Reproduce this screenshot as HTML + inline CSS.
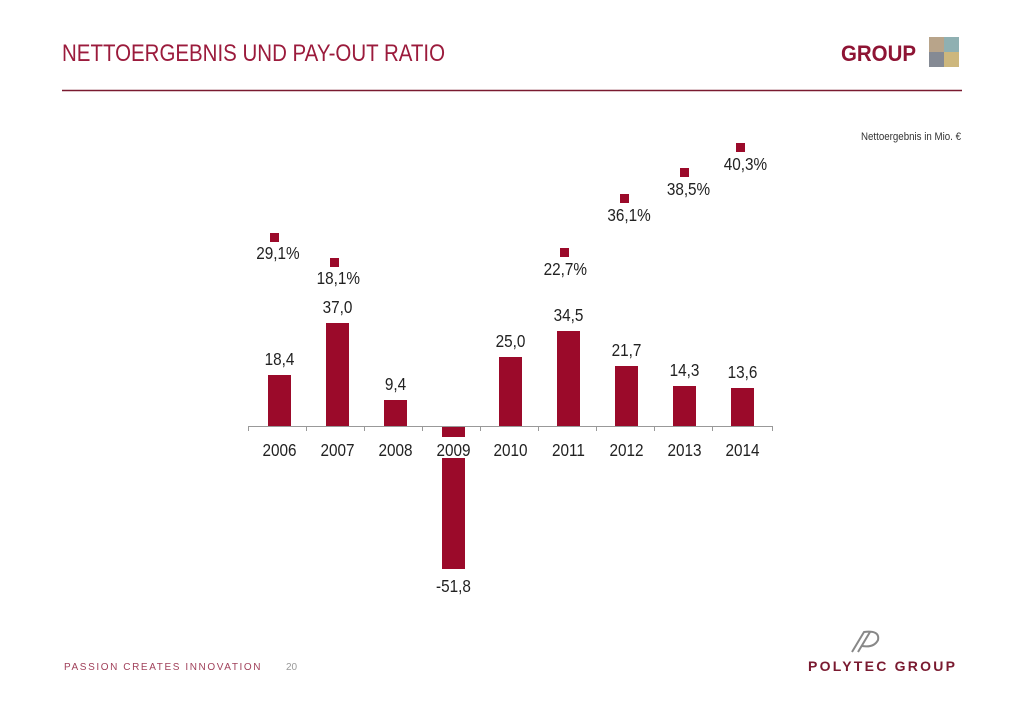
<!DOCTYPE html>
<html><head><meta charset="utf-8"><style>
html,body{margin:0;padding:0;background:#fff;}
svg{display:block;font-family:"Liberation Sans",sans-serif;}
</style></head><body>
<svg width="1024" height="709" viewBox="0 0 1024 709" xmlns="http://www.w3.org/2000/svg">
<text x="62" y="61" font-size="24" fill="#9b1b3c" textLength="383" lengthAdjust="spacingAndGlyphs">NETTOERGEBNIS UND PAY-OUT RATIO</text>
<text x="841" y="61" font-size="22" font-weight="bold" fill="#8e1434" textLength="75" lengthAdjust="spacingAndGlyphs">GROUP</text>
<rect x="929" y="37" width="15" height="15" fill="#b8a48a"/>
<rect x="944" y="37" width="15" height="15" fill="#8fb0b2"/>
<rect x="929" y="52" width="15" height="15" fill="#858a94"/>
<rect x="944" y="52" width="15" height="15" fill="#cdb77d"/>
<line x1="62" y1="90.5" x2="962" y2="90.5" stroke="#7a1a30" stroke-width="1.5"/>
<text x="861" y="140" font-size="11" fill="#333" textLength="100" lengthAdjust="spacingAndGlyphs">Nettoergebnis in Mio. €</text>

<g fill="#9b0a2a">
<rect x="268" y="375" width="23" height="51"/>
<rect x="326" y="323" width="23" height="103"/>
<rect x="384" y="400" width="23" height="26"/>
<rect x="442" y="426" width="23" height="11"/>
<rect x="442" y="458" width="23" height="111"/>
<rect x="499" y="357" width="23" height="69"/>
<rect x="557" y="331" width="23" height="95"/>
<rect x="615" y="366" width="23" height="60"/>
<rect x="673" y="386" width="23" height="40"/>
<rect x="731" y="388" width="23" height="38"/>
<rect x="270" y="233" width="9" height="9"/>
<rect x="330" y="258" width="9" height="9"/>
<rect x="560" y="248" width="9" height="9"/>
<rect x="620" y="194" width="9" height="9"/>
<rect x="680" y="168" width="9" height="9"/>
<rect x="736" y="143" width="9" height="9"/>
</g>
<g stroke="#999" stroke-width="1">
<line x1="248" y1="426.5" x2="773" y2="426.5"/>
<line x1="248.5" y1="426" x2="248.5" y2="431"/><line x1="306.5" y1="426" x2="306.5" y2="431"/>
<line x1="364.5" y1="426" x2="364.5" y2="431"/><line x1="422.5" y1="426" x2="422.5" y2="431"/>
<line x1="480.5" y1="426" x2="480.5" y2="431"/><line x1="538.5" y1="426" x2="538.5" y2="431"/>
<line x1="596.5" y1="426" x2="596.5" y2="431"/><line x1="654.5" y1="426" x2="654.5" y2="431"/>
<line x1="712.5" y1="426" x2="712.5" y2="431"/><line x1="772.5" y1="426" x2="772.5" y2="431"/>
</g>
<g font-size="18" fill="#222" text-anchor="middle" transform="scale(0.85,1)">
<text x="328.8" y="456">2006</text><text x="397.1" y="456">2007</text><text x="465.3" y="456">2008</text>
<text x="533.5" y="456">2009</text><text x="600.6" y="456">2010</text><text x="668.8" y="456">2011</text>
<text x="737.1" y="456">2012</text><text x="805.3" y="456">2013</text><text x="873.5" y="456">2014</text>
<text x="328.8" y="365">18,4</text><text x="397.1" y="313">37,0</text><text x="465.3" y="390">9,4</text>
<text x="533.5" y="592">-51,8</text><text x="600.6" y="347">25,0</text><text x="668.8" y="321">34,5</text>
<text x="737.1" y="356">21,7</text><text x="805.3" y="376">14,3</text><text x="873.5" y="378">13,6</text>
<text x="327" y="259">29,1%</text><text x="398" y="284">18,1%</text><text x="665" y="275">22,7%</text>
<text x="740" y="221">36,1%</text><text x="810" y="195">38,5%</text><text x="877" y="170">40,3%</text>
</g>
<text x="64" y="670" font-size="10" fill="#a0405a" letter-spacing="1.6">PASSION  CREATES  INNOVATION</text>
<text x="286" y="670" font-size="10" fill="#999">20</text>
<g fill="none" stroke="#888" stroke-width="2">
<path d="M852 652 L864 632 Q880 630 878 640 Q874 648 862 646"/>
<path d="M858 652 L870 632"/>
</g>
<text x="808" y="671" font-size="14" font-weight="bold" fill="#7a1a30" letter-spacing="3" textLength="150" lengthAdjust="spacing">POLYTEC GROUP</text>
</svg>
</body></html>
